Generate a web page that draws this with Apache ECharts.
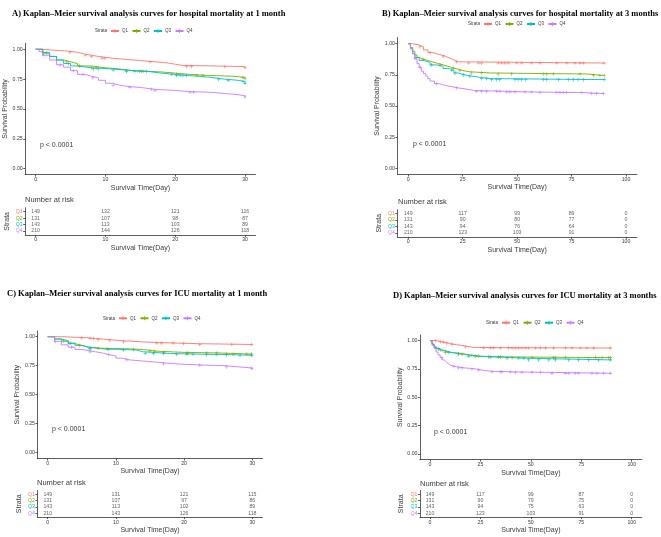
<!DOCTYPE html>
<html><head><meta charset="utf-8">
<script src="https://cdn.jsdelivr.net/npm/echarts@6/dist/echarts.min.js"></script>
<style>html,body{margin:0;padding:0;background:#fff}#c{width:661px;height:537px}</style>
</head><body><div id="c"></div>
<script>
// ---------- data ----------
const strata = ['Q1', 'Q2', 'Q3', 'Q4'];
const yTicks = [0, 0.25, 0.5, 0.75, 1];
const yTickLabels = ['0.00', '0.25', '0.50', '0.75', '1.00'];
const xTicks1m = [0, 10, 20, 30];
const xTicks3m = [0, 25, 50, 75, 100];

const titleA = 'A) Kaplan\u2013Meier survival analysis curves for hospital mortality at 1 month';
const titleB = 'B) Kaplan\u2013Meier survival analysis curves for hospital mortality at 3 months';
const titleC = 'C) Kaplan\u2013Meier survival analysis curves for ICU mortality at 1 month';
const titleD = 'D) Kaplan\u2013Meier survival analysis curves for ICU mortality at 3 months';
const pText = 'p < 0.0001';

// Panel A: hospital mortality, 1 month  ([day, survival] at each step)
const A_Q1 = [[0,1],[1,0.99],[3,0.985],[4.5,0.975],[6,0.96],[7,0.95],[8,0.94],[9,0.925],[11,0.915],[13,0.905],[15,0.895],[17,0.885],[19,0.875],[20,0.865],[21,0.855],[30,0.845]];
const A_Q2 = [[0,1],[1,0.97],[2,0.94],[3,0.91],[4,0.895],[5,0.88],[6,0.86],[8,0.845],[10,0.835],[12,0.82],[14,0.815],[16,0.81],[18,0.8],[20,0.79],[22,0.78],[25,0.775],[28,0.765],[30,0.755]];
const A_Q3 = [[0,1],[1,0.97],[2,0.94],[3,0.91],[4,0.88],[5,0.86],[6,0.845],[8,0.835],[11,0.825],[13,0.815],[16,0.8],[18,0.79],[20,0.78],[22,0.765],[25,0.75],[27,0.74],[29,0.73],[30,0.715]];
const A_Q4 = [[0,1],[0.5,0.98],[1,0.95],[2,0.91],[3,0.87],[4,0.85],[5,0.82],[6,0.79],[7,0.775],[8,0.76],[9,0.74],[10,0.715],[11,0.7],[12,0.69],[13,0.68],[15,0.665],[17,0.655],[20,0.645],[22,0.64],[25,0.63],[27,0.62],[29,0.61],[30,0.6]];
const A_cens_Q1 = [4.9,7.1,8,9.5,9.9,16.4,21.6,22.3,27.1,30];
const A_cens_Q2 = [1.1,4.4,6.3,8,8.7,13,14.9,15.4,20.2,23.1,24,29.7,30];
const A_cens_Q3 = [1.6,4.7,8.3,9,11.1,13,14.2,15.2,15.9,19.5,20.2,20.7,21.1,21.6,26.2,27.6,29.7,30];
const A_cens_Q4 = [1.1,3.5,5.4,6.8,8.2,11.1,13.5,16.6,17.1,22.1,22.6,30];
const A_risk_Q1 = [149,132,121,116];
const A_risk_Q2 = [131,107,98,87];
const A_risk_Q3 = [143,113,103,89];
const A_risk_Q4 = [210,144,126,118];

// Panel B: hospital mortality, 3 months
const B_Q1 = [[0,1],[2,0.99],[5,0.975],[7,0.95],[9,0.93],[11,0.915],[14,0.9],[17,0.885],[19,0.87],[21,0.855],[23,0.845],[90,0.845]];
const B_Q2 = [[0,1],[1,0.97],[2,0.94],[3,0.91],[4,0.89],[5,0.875],[7,0.86],[10,0.845],[13,0.83],[16,0.815],[19,0.8],[22,0.785],[25,0.775],[28,0.765],[38,0.757],[82,0.745],[90,0.745]];
const B_Q3 = [[0,1],[1,0.96],[2,0.92],[3,0.89],[5,0.865],[7,0.85],[10,0.83],[13,0.82],[16,0.8],[19,0.785],[21,0.765],[23,0.75],[26,0.74],[29,0.73],[33,0.72],[38,0.712],[90,0.712]];
const B_Q4 = [[0,1],[1,0.96],[2,0.92],[3,0.88],[4,0.84],[5,0.81],[6,0.78],[7,0.76],[8,0.74],[9,0.72],[10,0.7],[12,0.68],[14,0.665],[17,0.655],[20,0.645],[23,0.635],[27,0.625],[30,0.618],[45,0.612],[60,0.608],[80,0.6],[90,0.597]];
const B_cens_Q1 = [5.4,10,16.1,22.2,27.6,32.2,33.7,41.3,42.9,44.4,45.9,49.8,52.1,56.7,60.5,68.2,72.8,76.6,78.9,80.4,90];
const B_cens_Q2 = [6.9,14.6,20.7,23.7,29.1,33.7,41.3,47.5,62,63.6,66.6,78.9,85,88,90];
const B_cens_Q3 = [10.7,19.9,21.5,25.3,28.3,33.7,36,38.3,40.6,42,49,50.5,52,54,62,63.6,69,73.5,75.8,78,80.4,90];
const B_cens_Q4 = [3.1,5.4,13,22.2,31.4,33.7,36,40.6,42.1,45.2,46.7,49,53.6,56.7,60.5,68.2,69.7,71.2,72.8,79.7,84.2,86.5,89.6];
const B_risk_Q1 = [149,117,99,89,0];
const B_risk_Q2 = [131,90,80,77,0];
const B_risk_Q3 = [143,94,76,64,0];
const B_risk_Q4 = [210,123,103,91,0];

// Panel C: ICU mortality, 1 month
const C_Q1 = [[0,1],[2,0.995],[4,0.99],[6,0.985],[7,0.975],[9,0.965],[11,0.955],[14,0.95],[16,0.945],[19,0.94],[22,0.933],[30,0.93]];
const C_Q2 = [[0,1],[1,0.98],[2,0.96],[3,0.94],[4,0.925],[5,0.91],[6,0.9],[8,0.895],[12,0.89],[14,0.875],[16,0.865],[20,0.86],[25,0.85],[30,0.845]];
const C_Q3 = [[0,1],[1,0.98],[2,0.965],[3,0.945],[4,0.925],[5,0.91],[6,0.895],[8,0.89],[11,0.885],[13,0.87],[14,0.855],[18,0.85],[22,0.845],[27,0.84],[30,0.83]];
const C_Q4 = [[0,1],[1,0.96],[2,0.93],[3,0.91],[4,0.89],[5,0.88],[6,0.87],[7,0.86],[8,0.845],[9,0.835],[10,0.815],[11,0.8],[12,0.79],[14,0.78],[16,0.765],[19,0.755],[23,0.75],[26,0.74],[28,0.73],[30,0.715]];
const C_cens_Q1 = [5,6.2,6.7,7.4,9.1,11.1,16,16.7,18.4,19.9,22.3,27,29.9];
const C_cens_Q2 = [4.7,6.2,7.4,8.7,12.6,15,15.7,17,20.4,20.6,23.3,24.8,26.2,27.2,29.2,29.9];
const C_cens_Q3 = [2.3,3.3,6.2,8.9,11.1,14.3,15.5,17,18.9,20.4,21.3,23.3,24.8,26.2,28.2,29.9];
const C_cens_Q4 = [1.1,3.5,6.2,8.9,11.6,17,22.3,26.2,29.9];
const C_risk_Q1 = [149,131,121,115];
const C_risk_Q2 = [131,107,97,86];
const C_risk_Q3 = [143,113,102,89];
const C_risk_Q4 = [210,143,126,118];

// Panel D: ICU mortality, 3 months
const D_Q1 = [[0,1],[3,0.99],[6,0.985],[8,0.975],[10,0.965],[13,0.955],[17,0.945],[20,0.94],[22,0.935],[90,0.932]];
const D_Q2 = [[0,1],[1,0.97],[2,0.95],[3,0.93],[5,0.91],[7,0.895],[10,0.89],[14,0.88],[18,0.87],[21,0.862],[25,0.857],[35,0.85],[90,0.85]];
const D_Q3 = [[0,1],[1,0.97],[2,0.94],[3,0.925],[5,0.91],[8,0.895],[11,0.885],[15,0.872],[19,0.862],[25,0.855],[35,0.845],[48,0.83],[90,0.828]];
const D_Q4 = [[0,1],[1,0.96],[2,0.935],[3,0.9],[4,0.875],[5,0.85],[6,0.83],[7,0.815],[8,0.8],[9,0.785],[10,0.77],[13,0.76],[17,0.755],[20,0.75],[23,0.74],[26,0.73],[30,0.725],[40,0.72],[60,0.712],[90,0.707]];
const D_cens_Q1 = [2.6,5.1,6.8,8.4,10.9,17.5,26.6,29.9,31.6,34.9,39,40.7,42.3,44,45.6,47.3,48.9,52.2,54.7,57.2,61.3,67.1,70.4,74.5,77.8,81.1,89.4];
const D_cens_Q2 = [7.6,14.2,15.9,20.8,24.1,29.1,34.9,40.7,50.6,61.3,62.1,67.1,82,85.3,88.6,89.4];
const D_cens_Q3 = [4.3,9.3,14.2,19.2,22.5,29.9,34.1,38.2,44,46.5,48.9,53.9,58.9,62.1,68.8,73.7,78.7,83.6,89.4];
const D_cens_Q4 = [2.6,5.9,11.8,14.2,15.9,20.8,24.1,30.7,34.9,35.7,39.8,42.3,45.6,50.6,54.7,60.5,67.1,68.8,72,73.7,80.3,82.8,86.1,89.4];
const D_risk_Q1 = [149,117,99,87,0];
const D_risk_Q2 = [131,90,79,75,0];
const D_risk_Q3 = [143,94,75,63,0];
const D_risk_Q4 = [210,123,103,91,0];

// ---------- style / layout ----------
const colors = ['#F8766D', '#7CAE00', '#00BFC4', '#C77CFF'];
const SANS = 'Liberation Sans';
const SERIF = 'Liberation Serif';
const TXT = '#3a3a3a';
const CROSS = 'path://M0,4H10V6H0Z M4,0H6V10H4Z';

const panels = [
  { title: titleA, titlePos: [12, 9], steps: [A_Q1, A_Q2, A_Q3, A_Q4], cens: [A_cens_Q1, A_cens_Q2, A_cens_Q3, A_cens_Q4],
    risk: [A_risk_Q1, A_risk_Q2, A_risk_Q3, A_risk_Q4], xTicks: xTicks1m, xMin: -1.5, xMax: 31.5,
    plot: { left: 25.2, top: 43.3, width: 230.3, height: 131.3 }, rgrid: { left: 25.2, top: 207.8, width: 230.3, height: 27.1 },
    legend: [95, 31], p: [40, 146], nar: [25, 200] },
  { title: titleB, titlePos: [382, 9], steps: [B_Q1, B_Q2, B_Q3, B_Q4], cens: [B_cens_Q1, B_cens_Q2, B_cens_Q3, B_cens_Q4],
    risk: [B_risk_Q1, B_risk_Q2, B_risk_Q3, B_risk_Q4], xTicks: xTicks3m, xMin: -5, xMax: 105,
    plot: { left: 397.4, top: 37.5, width: 239.5, height: 137 }, rgrid: { left: 397.4, top: 209.6, width: 239.5, height: 27.3 },
    legend: [468, 24], p: [413, 145], nar: [398, 202] },
  { title: titleC, titlePos: [7, 289], steps: [C_Q1, C_Q2, C_Q3, C_Q4], cens: [C_cens_Q1, C_cens_Q2, C_cens_Q3, C_cens_Q4],
    risk: [C_risk_Q1, C_risk_Q2, C_risk_Q3, C_risk_Q4], xTicks: xTicks1m, xMin: -1.5, xMax: 31.5,
    plot: { left: 37.5, top: 330.9, width: 225, height: 127.6 }, rgrid: { left: 37.5, top: 490.5, width: 225, height: 26.6 },
    legend: [103, 318.3], p: [52, 430], nar: [37, 483.3] },
  { title: titleD, titlePos: [393, 291], steps: [D_Q1, D_Q2, D_Q3, D_Q4], cens: [D_cens_Q1, D_cens_Q2, D_cens_Q3, D_cens_Q4],
    risk: [D_risk_Q1, D_risk_Q2, D_risk_Q3, D_risk_Q4], xTicks: xTicks3m, xMin: -5, xMax: 105,
    plot: { left: 419.9, top: 335.0, width: 221.9, height: 124.6 }, rgrid: { left: 419.9, top: 490.5, width: 221.9, height: 26.6 },
    legend: [486, 322.7], p: [434, 432.3], nar: [420, 484] }
];

function stepAt(steps, t) {
  let s = steps[0][1];
  for (const [x, y] of steps) if (x <= t) s = y;
  return s;
}

const grid = [], xAxis = [], yAxis = [], series = [], title = [], legend = [];
const axisLineStyle = { color: '#333', width: 0.8 };

panels.forEach((P, k) => {
  const gi = grid.length;
  grid.push(Object.assign({}, P.plot));
  grid.push(Object.assign({}, P.rgrid));
  const xBase = (name) => ({
    type: 'value', min: P.xMin, max: P.xMax,
    axisLine: { show: true, onZero: false, lineStyle: axisLineStyle },
    axisTick: { show: true, length: 2, customValues: P.xTicks, lineStyle: axisLineStyle },
    axisLabel: { customValues: P.xTicks, fontSize: 5.2, margin: 2.5, color: TXT, fontFamily: SANS },
    splitLine: { show: false },
    name: name, nameLocation: 'middle', nameGap: 9.5,
    nameTextStyle: { fontSize: 7, color: TXT, fontFamily: SANS }
  });
  xAxis.push(Object.assign(xBase('Survival Time(Day)'), { gridIndex: gi }));
  xAxis.push(Object.assign(xBase('Survival Time(Day)'), { gridIndex: gi + 1 }));
  yAxis.push({
    type: 'value', gridIndex: gi, min: -0.05, max: 1.05,
    axisLine: { show: true, onZero: false, lineStyle: axisLineStyle },
    axisTick: { show: true, length: 2, customValues: yTicks, lineStyle: axisLineStyle },
    axisLabel: { customValues: yTicks, fontSize: 5.2, margin: 2.5, color: TXT, fontFamily: SANS,
                 formatter: v => yTickLabels[yTicks.indexOf(+v)] },
    splitLine: { show: false },
    name: 'Survival Probability', nameLocation: 'middle', nameGap: 15, nameRotate: 90,
    nameTextStyle: { fontSize: 7, color: TXT, fontFamily: SANS }
  });
  yAxis.push({
    type: 'value', gridIndex: gi + 1, min: 0.4, max: 4.6, inverse: true,
    axisLine: { show: true, onZero: false, lineStyle: axisLineStyle },
    axisTick: { show: true, length: 2, customValues: [1, 2, 3, 4], lineStyle: axisLineStyle },
    axisLabel: { customValues: [1, 2, 3, 4], fontSize: 5.2, margin: 2.5, fontFamily: SANS,
                 formatter: v => strata[Math.round(+v) - 1],
                 color: v => colors[Math.round(+v) - 1] },
    splitLine: { show: false },
    name: 'Strata', nameLocation: 'middle', nameGap: 15, nameRotate: 90,
    nameTextStyle: { fontSize: 7, color: TXT, fontFamily: SANS }
  });
  strata.forEach((s, i) => {
    series.push({
      type: 'line', name: s, xAxisIndex: gi, yAxisIndex: gi, step: 'end',
      data: P.steps[i], showSymbol: false, symbol: CROSS, symbolSize: 4,
      lineStyle: { color: colors[i], width: 0.9 }, itemStyle: { color: colors[i] },
      silent: true, z: 3
    });
    series.push({
      type: 'scatter', name: s, xAxisIndex: gi, yAxisIndex: gi,
      data: P.cens[i].map(t => [t, stepAt(P.steps[i], t)]),
      symbol: CROSS, symbolSize: 3.6, itemStyle: { color: colors[i] }, silent: true, z: 4
    });
    series.push({
      type: 'scatter', name: 'risk', xAxisIndex: gi + 1, yAxisIndex: gi + 1,
      data: P.risk[i].map((n, j) => [P.xTicks[j], i + 1, n]),
      symbolSize: 1, itemStyle: { color: 'rgba(0,0,0,0)' }, silent: true, z: 5,
      label: { show: true, position: 'inside', formatter: p => String(p.value[2]), fontSize: 5.2, color: TXT, fontFamily: SANS }
    });
  });
  title.push({ text: P.title, left: P.titlePos[0], top: P.titlePos[1], padding: 0,
               textStyle: { fontFamily: SERIF, fontWeight: 'bold', fontSize: 8.5, color: '#000' } });
  title.push({ text: pText, left: P.p[0], top: P.p[1] - 4, padding: 0,
               textStyle: { fontFamily: SANS, fontWeight: 'normal', fontSize: 7, color: TXT } });
  title.push({ text: 'Number at risk', left: P.nar[0], top: P.nar[1] - 4.2, padding: 0,
               textStyle: { fontFamily: SANS, fontWeight: 'normal', fontSize: 7.5, color: TXT } });
  title.push({ text: 'Strata', left: P.legend[0], top: P.legend[1] - 2.5, padding: 0,
               textStyle: { fontFamily: SANS, fontWeight: 'normal', fontSize: 4.5, color: TXT } });
  legend.push({ data: strata, left: P.legend[0] + 15, top: P.legend[1] - 2.5, padding: 0,
                itemWidth: 8, itemHeight: 5, itemGap: 3.5, selectedMode: false,
                textStyle: { fontSize: 4.5, color: TXT, fontFamily: SANS, padding: [0, 0, 0, -2] } });
});

const chart = echarts.init(document.getElementById('c'), null, { renderer: 'canvas' });
chart.setOption({ animation: false, backgroundColor: '#fff', title, legend, grid, xAxis, yAxis, series });
</script>
</body></html>
